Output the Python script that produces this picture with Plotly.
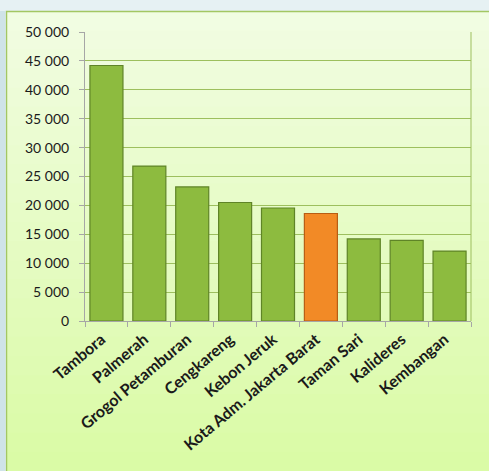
import plotly.graph_objects as go

categories = ["Tambora", "Palmerah", "Grogol Petamburan", "Cengkareng", "Kebon Jeruk",
              "Kota Adm. Jakarta Barat", "Taman Sari", "Kalideres", "Kembangan"]
values = [44200, 26800, 23200, 20500, 19550, 18600, 14200, 13950, 12100]
highlight = "Kota Adm. Jakarta Barat"
y_ticks = [0, 5000, 10000, 15000, 20000, 25000, 30000, 35000, 40000, 45000, 50000]
y_ticklabels = ["0", "5 000", "10 000", "15 000", "20 000", "25 000", "30 000",
                "35 000", "40 000", "45 000", "50 000"]

green, green_line = "#8dbb3f", "#5f8427"
orange, orange_line = "#f28a26", "#b85d14"
colors = [orange if c == highlight else green for c in categories]
lines = [orange_line if c == highlight else green_line for c in categories]

W, H = 489, 471
fig = go.Figure()
fig.add_trace(go.Bar(
    x=categories, y=values,
    marker=dict(color=colors, line=dict(color=lines, width=1.2)),
    width=0.77, hoverinfo="x+y",
))

PL, PR, PT, PB = 85, 471, 32, 321

def ypx_to_paper(py):
    return (PB - py) / (PB - PT)

def xpx_to_paper(px):
    return (px - PL) / (PR - PL)

shapes = []
box_top = 11
n = 24
top_rgb = (241, 253, 226)
bot_rgb = (218, 251, 166)
for i in range(n):
    t = i / (n - 1)
    r = int(top_rgb[0] + (bot_rgb[0] - top_rgb[0]) * t)
    g = int(top_rgb[1] + (bot_rgb[1] - top_rgb[1]) * t)
    b = int(top_rgb[2] + (bot_rgb[2] - top_rgb[2]) * t)
    py0 = box_top + (H - box_top) * i / n
    py1 = box_top + (H - box_top) * (i + 1) / n + 1
    shapes.append(dict(type="rect", xref="paper", yref="paper",
                       x0=xpx_to_paper(6), x1=xpx_to_paper(W + 5),
                       y0=ypx_to_paper(py1), y1=ypx_to_paper(py0),
                       fillcolor=f"rgb({r},{g},{b})", line=dict(width=0), layer="below"))
shapes.append(dict(type="rect", xref="paper", yref="paper",
                   x0=xpx_to_paper(6.5), x1=xpx_to_paper(W + 5),
                   y0=ypx_to_paper(H + 5), y1=ypx_to_paper(11.5),
                   fillcolor="rgba(0,0,0,0)", line=dict(color="#a3c763", width=1.5), layer="below"))
shapes.append(dict(type="rect", xref="paper", yref="paper",
                   x0=xpx_to_paper(-5), x1=xpx_to_paper(5.5),
                   y0=ypx_to_paper(H + 5), y1=ypx_to_paper(11),
                   fillcolor="#cfe3e8", line=dict(width=0), layer="below"))
shapes.append(dict(type="line", xref="paper", yref="paper", x0=1, x1=1, y0=0, y1=1,
                   line=dict(color="#9dbf5e", width=1), layer="below"))

fig.update_layout(
    width=W, height=H,
    margin=dict(l=PL, r=W - PR, t=PT, b=H - PB),
    paper_bgcolor="#e6f1f3",
    plot_bgcolor="rgba(0,0,0,0)",
    shapes=shapes,
    showlegend=False,
    font=dict(family="Lato, Open Sans, sans-serif", color="#1a1a1a"),
)
fig.update_yaxes(
    range=[0, 50000], tickvals=y_ticks, ticktext=y_ticklabels,
    showgrid=True, gridcolor="#9dbf5e", gridwidth=1,
    showline=True, linecolor="#a6a6a6", linewidth=1,
    ticks="outside", ticklen=5, tickcolor="#a6a6a6", ticklabelstandoff=7,
    tickfont=dict(size=14, color="#1a1a1a", family="Lato, Open Sans, sans-serif"),
    zeroline=False, automargin=False, fixedrange=True,
)
fig.update_xaxes(
    range=[-0.5, 8.5], tickangle=-40,
    showline=True, linecolor="#a6a6a6", linewidth=1,
    ticks="outside", ticklen=5, tickcolor="#a6a6a6", tickson="boundaries",
    ticklabelstandoff=2, ticklabelshift=-5,
    tickfont=dict(size=16, color="#1a1a1a", family="Lato, Open Sans, sans-serif", weight="bold"),
    automargin=False, fixedrange=True,
)

fig.write_html("out.html", config={"displayModeBar": False},
               post_script="document.body.style.margin='0px';document.body.style.background='#e6f1f3';")
